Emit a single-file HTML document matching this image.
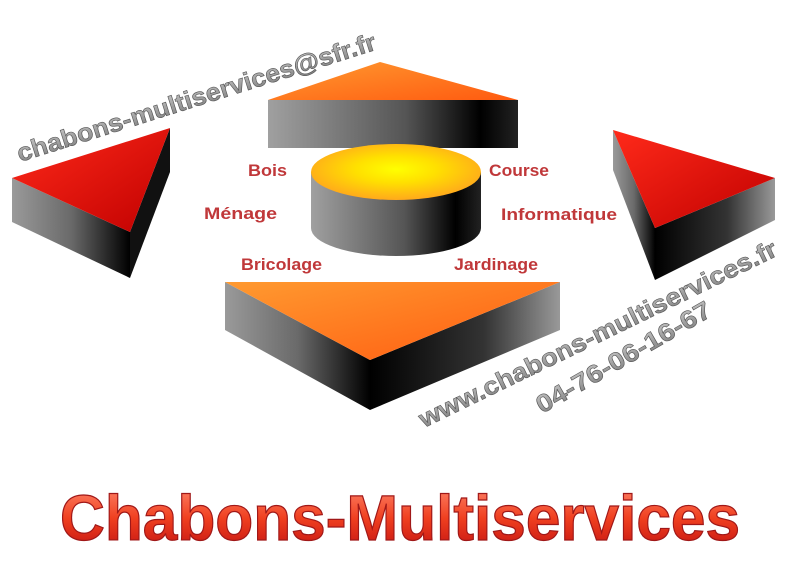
<!DOCTYPE html>
<html><head><meta charset="utf-8"><style>
html,body{margin:0;padding:0;background:#fff;width:795px;height:570px;overflow:hidden}
svg text{font-family:"Liberation Sans",sans-serif;font-weight:bold}
</style></head><body>
<svg width="795" height="570" viewBox="0 0 795 570" xmlns="http://www.w3.org/2000/svg">
<defs>
<linearGradient id="gy" x1="0" x2="1"><stop offset="0" stop-color="#9a9a9a"/><stop offset=".5" stop-color="#6a6a6a"/><stop offset="1" stop-color="#000"/></linearGradient>
<linearGradient id="gy2" x1="0" x2="1"><stop offset="0" stop-color="#000"/><stop offset=".6" stop-color="#333"/><stop offset="1" stop-color="#999"/></linearGradient>
<linearGradient id="gy3" x1="0" x2="1"><stop offset="0" stop-color="#a0a0a0"/><stop offset=".55" stop-color="#555"/><stop offset=".85" stop-color="#000"/><stop offset="1" stop-color="#222"/></linearGradient>
<linearGradient id="red" x1="0" y1="0" x2="1" y2="1"><stop offset="0" stop-color="#ff2a1a"/><stop offset="1" stop-color="#c00000"/></linearGradient>
<linearGradient id="ora" x1="0" y1="0" x2="1" y2="1"><stop offset="0" stop-color="#ff9a30"/><stop offset="1" stop-color="#ff5a10"/></linearGradient>
<radialGradient id="yel" cx=".5" cy=".45" r=".6"><stop offset="0" stop-color="#ffff00"/><stop offset=".4" stop-color="#ffe000"/><stop offset="1" stop-color="#ffa020"/></radialGradient>
<linearGradient id="tit" x1="0" y1="0" x2="0" y2="1"><stop offset="0" stop-color="#ff8a70"/><stop offset=".5" stop-color="#f04020"/><stop offset="1" stop-color="#c01010"/></linearGradient>
<linearGradient id="txg" x1="0" y1="0" x2="0" y2="1"><stop offset="0" stop-color="#c8c8c8"/><stop offset="1" stop-color="#7a7a7a"/></linearGradient>
</defs>
<polygon points="12,178 130,232 130,278 12,222" fill="url(#gy)"/>
<polygon points="170,128 170,172 130,278 130,232" fill="#111"/>
<polygon points="12,178 170,128 130,232" fill="url(#red)"/>
<rect x="268" y="100" width="250" height="48" fill="url(#gy3)"/>
<polygon points="268,100 380,62 518,100" fill="url(#ora)"/>
<path d="M311,172 L311,228 A85,28 0 0 0 481,228 L481,172 Z" fill="url(#gy3)"/>
<ellipse cx="396" cy="172" rx="85" ry="28" fill="url(#yel)"/>
<polygon points="225,282 370,360 370,410 225,330" fill="url(#gy)"/>
<polygon points="370,360 560,282 560,330 370,410" fill="url(#gy2)"/>
<polygon points="225,282 560,282 370,360" fill="url(#ora)"/>
<polygon points="613,130 655,228 655,280 613,170" fill="url(#gy)"/>
<polygon points="655,228 775,178 775,220 655,280" fill="url(#gy2)"/>
<polygon points="613,130 775,178 655,228" fill="url(#red)"/>
<g font-size="17" fill="#c0383a">
<text x="248" y="176" textLength="39" lengthAdjust="spacingAndGlyphs">Bois</text>
<text x="204" y="219" textLength="73" lengthAdjust="spacingAndGlyphs">Ménage</text>
<text x="241" y="270" textLength="81" lengthAdjust="spacingAndGlyphs">Bricolage</text>
<text x="489" y="176" textLength="60" lengthAdjust="spacingAndGlyphs">Course</text>
<text x="501" y="220" textLength="116" lengthAdjust="spacingAndGlyphs">Informatique</text>
<text x="454" y="270" textLength="84" lengthAdjust="spacingAndGlyphs">Jardinage</text>
</g>
<g fill="url(#txg)" stroke="#555" stroke-width="0.6" font-size="25">
<text transform="translate(20,162) rotate(-17.5)" textLength="375" lengthAdjust="spacingAndGlyphs">chabons-multiservices@sfr.fr</text>
<text transform="translate(424,428) rotate(-26)" textLength="395" lengthAdjust="spacingAndGlyphs">www.chabons-multiservices.fr</text>
<text transform="translate(542,414) rotate(-30)" textLength="198" lengthAdjust="spacingAndGlyphs">04-76-06-16-67</text>
</g>
<text x="60" y="540" font-size="64" fill="url(#tit)" stroke="#a01818" stroke-width="1.2" textLength="680" lengthAdjust="spacingAndGlyphs">Chabons-Multiservices</text>
</svg>
</body></html>
